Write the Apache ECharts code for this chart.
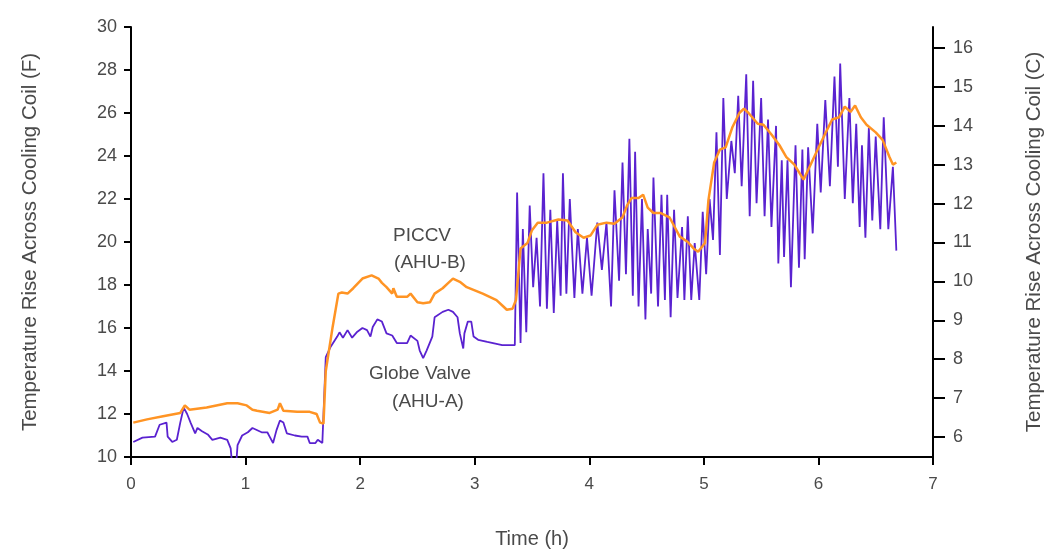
<!DOCTYPE html>
<html>
<head>
<meta charset="utf-8">
<script src="https://cdn.jsdelivr.net/npm/echarts@6/dist/echarts.min.js"></script>
<style>
html,body{margin:0;padding:0;background:#fff;}
#chart{width:1048px;height:553px;}
</style>
</head>
<body>
<div id="chart"></div>
<script>
// Time (h), temperature rise (F) for PICCV (AHU-B)
const piccvData = [
[0.02,11.6],[0.14,11.75],[0.28,11.9],[0.43,12.05],[0.47,12.4],[0.51,12.2],[0.66,12.3],[0.84,12.5],[0.93,12.5],
[1.01,12.4],[1.06,12.2],[1.10,12.15],[1.21,12.05],[1.28,12.2],[1.30,12.5],[1.33,12.15],[1.45,12.1],[1.56,12.1],
[1.62,12.0],[1.65,11.6],[1.68,11.55],[1.70,14.0],[1.76,16.05],[1.81,17.6],[1.84,17.65],[1.89,17.6],[1.94,17.85],
[2.02,18.3],[2.10,18.45],[2.16,18.3],[2.19,18.1],[2.23,17.9],[2.28,17.6],[2.29,17.85],[2.32,17.45],[2.41,17.45],
[2.44,17.6],[2.50,17.2],[2.55,17.15],[2.61,17.2],[2.65,17.6],[2.72,17.85],[2.77,18.1],[2.81,18.3],[2.87,18.15],
[2.93,17.9],[3.00,17.75],[3.07,17.6],[3.13,17.45],[3.19,17.3],[3.25,17.0],[3.28,16.85],[3.33,16.9],[3.36,17.3],
[3.40,19.7],[3.46,19.95],[3.50,20.55],[3.55,20.9],[3.63,20.9],[3.73,21.05],[3.81,21.0],[3.88,20.45],[3.95,20.2],
[4.01,20.3],[4.07,20.8],[4.15,20.9],[4.22,20.85],[4.29,21.15],[4.33,21.7],[4.37,22.05],[4.43,22.05],[4.47,22.2],
[4.51,21.6],[4.56,21.35],[4.62,21.35],[4.70,21.15],[4.75,20.65],[4.79,20.25],[4.86,20.0],[4.91,19.7],[4.95,19.55],
[5.01,19.95],[5.04,21.95],[5.09,23.7],[5.14,24.3],[5.19,24.4],[5.25,25.35],[5.31,26.0],[5.35,26.2],[5.39,26.0],
[5.47,25.5],[5.52,25.45],[5.59,25.0],[5.66,24.5],[5.72,23.95],[5.79,23.6],[5.87,22.9],[5.91,23.35],[5.98,24.15],
[6.06,25.05],[6.12,25.7],[6.18,25.8],[6.23,26.3],[6.28,26.05],[6.32,26.35],[6.37,25.8],[6.42,25.45],[6.50,25.1],
[6.56,24.75],[6.62,23.95],[6.65,23.6],[6.68,23.7]
];
// Time (h), temperature rise (F) for Globe Valve (AHU-A)
const globeData = [
[0.02,10.7],[0.10,10.9],[0.21,10.95],[0.25,11.5],[0.31,11.6],[0.32,10.95],[0.36,10.7],[0.40,10.8],[0.43,11.6],
[0.46,12.3],[0.49,12.0],[0.52,11.6],[0.56,11.1],[0.58,11.35],[0.62,11.2],[0.67,11.05],[0.71,10.8],[0.78,10.9],
[0.84,10.8],[0.87,10.4],[0.88,9.8],[0.92,9.8],[0.93,10.55],[0.97,11.0],[1.02,11.15],[1.06,11.35],[1.14,11.15],
[1.19,11.15],[1.21,10.95],[1.24,10.65],[1.27,11.25],[1.30,11.7],[1.33,11.6],[1.36,11.1],[1.43,11.0],[1.49,10.95],
[1.54,10.95],[1.56,10.65],[1.61,10.65],[1.63,10.8],[1.67,10.65],[1.68,10.7],
[1.70,14.65],[1.74,15.1],[1.80,15.6],[1.82,15.8],[1.85,15.55],[1.89,15.9],[1.93,15.55],[1.97,15.8],[2.02,16.0],
[2.06,15.9],[2.09,15.6],[2.11,16.05],[2.15,16.4],[2.19,16.3],[2.23,15.75],[2.28,15.65],[2.32,15.3],[2.41,15.3],
[2.44,15.65],[2.50,15.4],[2.52,14.95],[2.55,14.6],[2.58,14.95],[2.63,15.6],[2.65,16.5],[2.72,16.75],[2.77,16.85],
[2.81,16.75],[2.85,16.5],[2.87,15.75],[2.90,15.05],[2.91,15.75],[2.94,16.3],[2.97,16.3],[2.99,15.6],[3.03,15.45],
[3.11,15.35],[3.16,15.3],[3.24,15.2],[3.31,15.2],[3.35,15.2],
[3.37,22.3],[3.40,15.3],[3.42,20.6],[3.45,15.8],[3.48,21.7],[3.51,17.9],[3.54,20.2],[3.57,17.0],[3.60,23.2],
[3.63,16.9],[3.66,21.5],[3.69,16.7],[3.72,21.0],[3.75,17.5],[3.77,23.2],[3.80,17.6],[3.83,22.0],[3.87,17.4],
[3.90,20.6],[3.94,17.6],[3.98,20.2],[4.02,17.5],[4.07,20.9],[4.11,18.7],[4.15,20.9],[4.19,17.0],[4.22,22.4],
[4.26,18.2],[4.29,23.7],[4.32,18.5],[4.35,24.8],[4.38,17.5],[4.40,24.2],[4.43,17.0],[4.46,22.0],[4.49,16.4],
[4.51,20.6],[4.54,17.6],[4.56,23.0],[4.60,17.0],[4.63,22.2],[4.66,17.3],[4.68,22.2],[4.71,16.5],[4.74,21.5],
[4.77,17.4],[4.81,20.7],[4.83,17.3],[4.86,21.2],[4.89,17.3],[4.92,19.95],[4.96,17.3],[4.99,21.4],[5.02,18.5],
[5.05,22.0],[5.08,20.1],[5.11,25.1],[5.14,19.4],[5.17,26.7],[5.20,22.0],[5.24,24.7],[5.27,23.2],[5.30,26.8],
[5.33,22.6],[5.37,27.8],[5.40,21.2],[5.43,27.5],[5.46,21.8],[5.50,26.7],[5.53,21.2],[5.56,25.7],[5.59,20.7],
[5.63,25.4],[5.65,19.0],[5.68,23.8],[5.70,19.3],[5.73,23.8],[5.76,17.9],[5.80,24.5],[5.83,18.8],[5.86,24.3],
[5.88,19.2],[5.91,24.4],[5.95,20.4],[5.99,25.5],[6.02,22.3],[6.06,26.6],[6.10,22.6],[6.14,27.7],[6.17,23.5],
[6.19,28.3],[6.23,22.0],[6.27,26.7],[6.30,21.8],[6.33,25.5],[6.36,20.7],[6.38,24.5],[6.41,20.2],[6.44,25.3],
[6.47,21.0],[6.50,24.9],[6.54,20.6],[6.57,25.8],[6.61,20.6],[6.65,23.5],[6.68,19.6]
];
const xTicks = [0,1,2,3,4,5,6,7];
const leftTicks = [10,12,14,16,18,20,22,24,26,28,30];
const rightTicks = [6,7,8,9,10,11,12,13,14,15,16];

const txt = '#4a4a4a';
const font = 'Liberation Sans, Arial, sans-serif';
const chart = echarts.init(document.getElementById('chart'), null, {renderer:'canvas'});
chart.setOption({
  animation:false,
  backgroundColor:'#fff',
  grid:{left:131,right:115,top:27,bottom:96,containLabel:false,outerBoundsMode:'none'},
  xAxis:{
    type:'value', min:xTicks[0], max:xTicks[xTicks.length-1], interval:1,
    axisLine:{lineStyle:{color:'#000',width:2}},
    axisTick:{show:true,length:8,lineStyle:{color:'#000',width:2}},
    splitLine:{show:false},
    axisLabel:{color:txt,fontSize:17,fontFamily:font,margin:19},
    name:'Time (h)', nameLocation:'middle', nameGap:72,
    nameTextStyle:{color:txt,fontSize:20,fontFamily:font}
  },
  yAxis:[{
    type:'value', position:'left', min:leftTicks[0], max:leftTicks[leftTicks.length-1], interval:2,
    axisLine:{show:true,lineStyle:{color:'#000',width:2}},
    axisTick:{show:true,length:7,lineStyle:{color:'#000',width:2}},
    splitLine:{show:false},
    axisLabel:{color:txt,fontSize:18,fontFamily:font,margin:14},
    name:'Temperature Rise Across Cooling Coil (F)', nameLocation:'middle', nameGap:90, nameRotate:90,
    nameTextStyle:{color:txt,fontSize:20.5,fontFamily:font}
  },{
    type:'value', position:'right', min:5.486, max:16.54,
    axisLine:{show:true,lineStyle:{color:'#000',width:2}},
    axisTick:{show:true,length:12,customValues:rightTicks,lineStyle:{color:'#000',width:2}},
    splitLine:{show:false},
    axisLabel:{color:txt,fontSize:18,fontFamily:font,margin:20,customValues:rightTicks},
    name:'Temperature Rise Across Cooling Coil (C)', nameLocation:'middle', nameGap:91, nameRotate:90,
    nameTextStyle:{color:txt,fontSize:20.5,fontFamily:font}
  }],
  series:[{
    name:'Globe Valve (AHU-A)', type:'line', yAxisIndex:0, data:globeData,
    showSymbol:false, lineStyle:{color:'#5a22d0',width:1.8}, itemStyle:{color:'#5a22d0'}, z:2
  },{
    name:'PICCV (AHU-B)', type:'line', yAxisIndex:0, data:piccvData,
    showSymbol:false, lineStyle:{color:'#ff9424',width:2.5}, itemStyle:{color:'#ff9424'}, z:3
  }],
  graphic:[
    {type:'text',position:[422,236],style:{text:'PICCV',fill:txt,font:'19px '+font,textAlign:'center',textVerticalAlign:'middle'}},
    {type:'text',position:[430,263],style:{text:'(AHU-B)',fill:txt,font:'19px '+font,textAlign:'center',textVerticalAlign:'middle'}},
    {type:'text',position:[420,374],style:{text:'Globe Valve',fill:txt,font:'19px '+font,textAlign:'center',textVerticalAlign:'middle'}},
    {type:'text',position:[428,402],style:{text:'(AHU-A)',fill:txt,font:'19px '+font,textAlign:'center',textVerticalAlign:'middle'}}
  ]
});
</script>
</body>
</html>
